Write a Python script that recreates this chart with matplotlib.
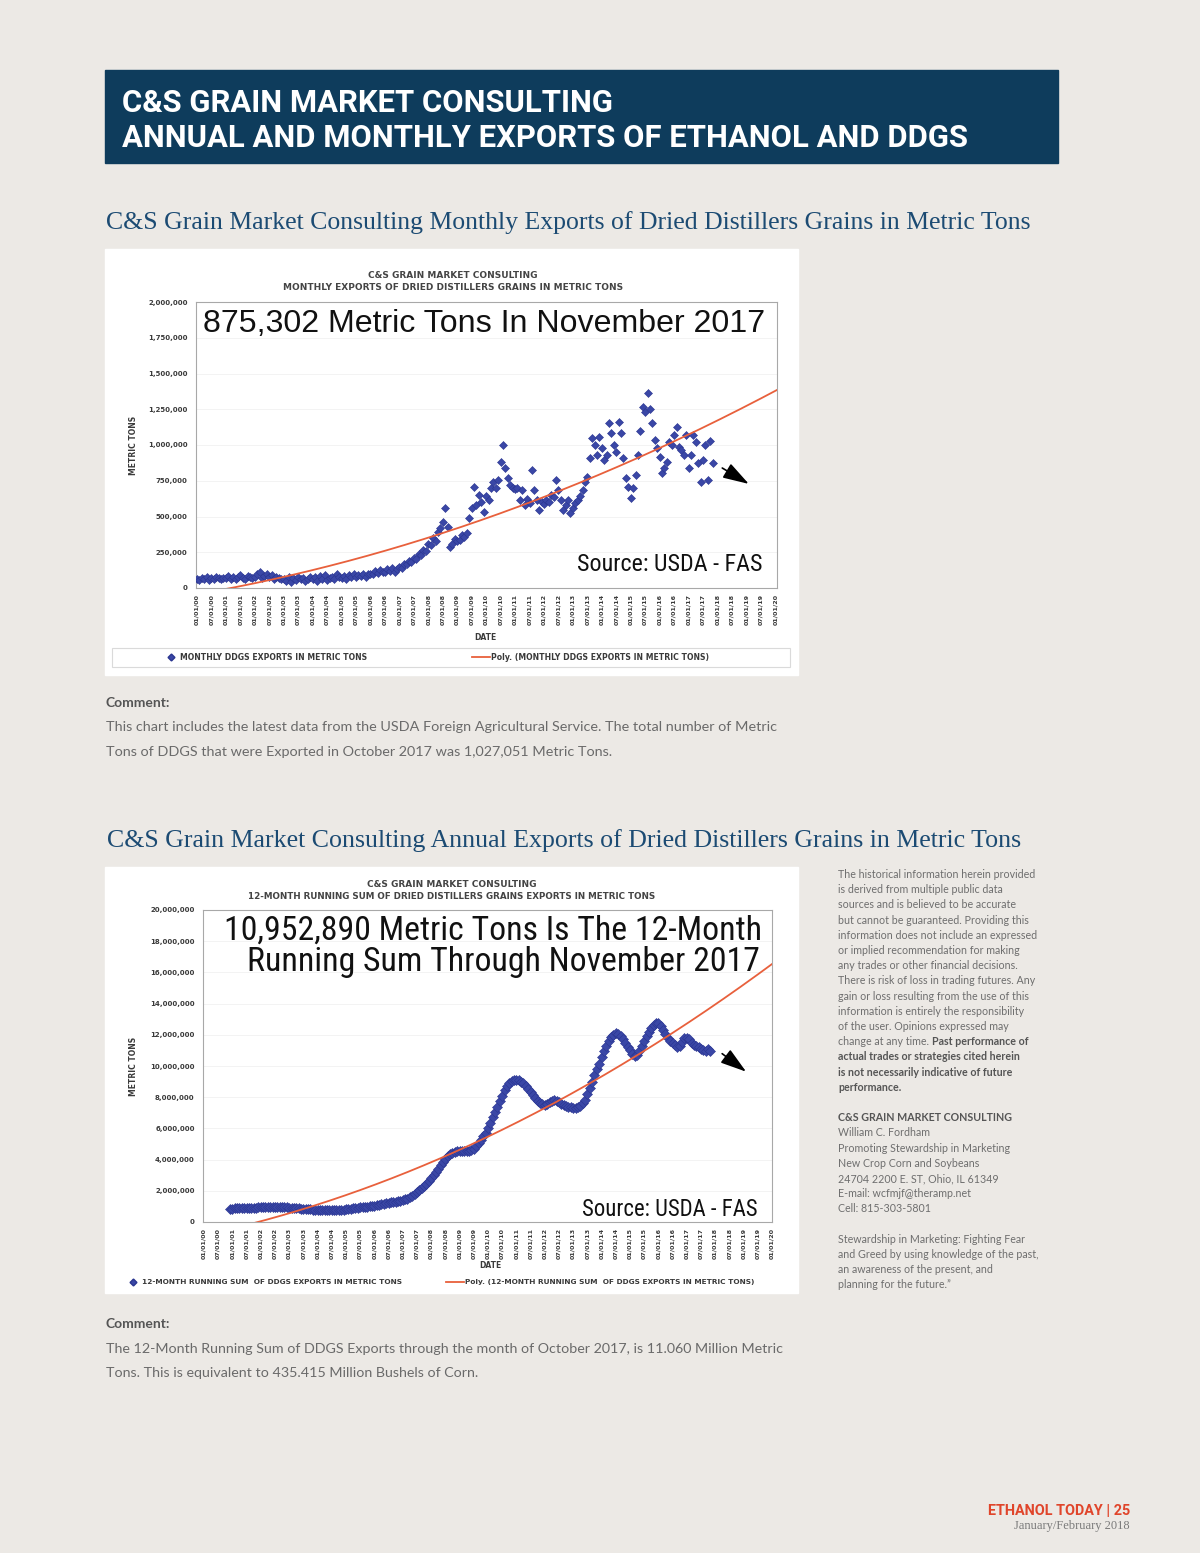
import matplotlib
matplotlib.use('Agg')
import matplotlib.pyplot as plt
import numpy as np
from matplotlib.patches import Rectangle
from matplotlib import font_manager
from matplotlib.font_manager import FontProperties

# ---------------- DATA ----------------
# Monthly DDGS exports (thousand metric tons), Jan 2000 .. Nov 2017
m2000 = [65, 55, 72, 60, 80, 58, 70, 62, 75, 68, 60, 72]
m2001 = [70, 85, 60, 75, 65, 80, 90, 70, 62, 85, 75, 68]
m2002 = [80, 95, 110, 70, 85, 100, 75, 90, 65, 80, 70, 60]
m2003 = [65, 50, 75, 45, 70, 55, 80, 60, 70, 50, 65, 75]
m2004 = [60, 75, 50, 85, 65, 90, 55, 70, 80, 60, 95, 75]
m2005 = [70, 85, 65, 90, 80, 95, 75, 90, 85, 100, 80, 95]
m2006 = [100, 95, 120, 105, 125, 115, 110, 130, 120, 140, 115, 135]
m2007 = [150, 140, 170, 165, 190, 180, 210, 200, 240, 230, 265, 260]
m2008 = [310, 300, 350, 330, 390, 420, 460, 560, 430, 290, 310, 340]
m2009 = [330, 336, 370, 360, 385, 490, 560, 707, 581, 651, 600, 532]
m2010 = [640, 616, 700, 742, 700, 756, 882, 1000, 839, 770, 721, 700]
m2011 = [690, 700, 616, 686, 581, 620, 595, 826, 686, 616, 546, 600]
m2012 = [590, 616, 600, 650, 637, 756, 686, 616, 546, 580, 616, 525]
m2013 = [560, 595, 616, 640, 686, 742, 776, 909, 1049, 1000, 930, 1056]
m2014 = [979, 895, 930, 1154, 1084, 1000, 951, 1161, 1084, 909, 770, 707]
m2015 = [630, 700, 790, 930, 1100, 1266, 1231, 1364, 1250, 1154, 1035, 979]
m2016 = [916, 804, 839, 882, 1021, 1000, 1070, 1126, 986, 965, 930, 1070]
m2017 = [839, 930, 1070, 1021, 874, 742, 895, 1000, 756, 1027.051, 875.302]

# 12-month running sum (million metric tons), Dec 2000 .. Nov 2017
r2000 = [0.85]
r2001 = [0.86, 0.87, 0.88, 0.88, 0.89, 0.90, 0.90, 0.91, 0.91, 0.92, 0.92, 0.93]
r2002 = [0.93, 0.94, 0.95, 0.95, 0.96, 0.96, 0.96, 0.95, 0.95, 0.94, 0.94, 0.93]
r2003 = [0.92, 0.91, 0.90, 0.89, 0.88, 0.86, 0.85, 0.84, 0.82, 0.81, 0.80, 0.79]
r2004 = [0.78, 0.77, 0.76, 0.75, 0.74, 0.74, 0.74, 0.75, 0.76, 0.77, 0.78, 0.80]
r2005 = [0.81, 0.83, 0.85, 0.87, 0.89, 0.91, 0.93, 0.95, 0.97, 0.99, 1.01, 1.03]
r2006 = [1.05, 1.08, 1.11, 1.14, 1.17, 1.20, 1.23, 1.26, 1.28, 1.31, 1.34, 1.37]
r2007 = [1.40, 1.45, 1.50, 1.58, 1.67, 1.78, 1.90, 2.02, 2.15, 2.30, 2.46, 2.62]
r2008 = [2.80, 3.00, 3.20, 3.42, 3.65, 3.85, 4.05, 4.22, 4.36, 4.45, 4.50, 4.52]
r2009 = [4.52, 4.52, 4.53, 4.55, 4.58, 4.63, 4.70, 4.85, 5.05, 5.28, 5.50, 5.72]
r2010 = [6.00, 6.35, 6.70, 7.05, 7.40, 7.75, 8.10, 8.45, 8.70, 8.90, 9.03, 9.10]
r2011 = [9.12, 9.08, 9.00, 8.88, 8.72, 8.55, 8.35, 8.15, 7.95, 7.78, 7.65, 7.55]
r2012 = [7.52, 7.58, 7.68, 7.78, 7.82, 7.78, 7.68, 7.58, 7.50, 7.45, 7.40, 7.36]
r2013 = [7.33, 7.32, 7.35, 7.45, 7.60, 7.85, 8.20, 8.60, 9.00, 9.40, 9.80, 10.15]
r2014 = [10.55, 10.95, 11.30, 11.60, 11.85, 12.00, 12.10, 12.08, 11.95, 11.75, 11.50, 11.25]
r2015 = [11.00, 10.80, 10.62, 10.70, 10.95, 11.30, 11.60, 11.90, 12.20, 12.45, 12.65, 12.78]
r2016 = [12.75, 12.55, 12.30, 12.05, 11.80, 11.62, 11.50, 11.35, 11.25, 11.30, 11.55, 11.80]
r2017 = [11.82, 11.70, 11.50, 11.35, 11.28, 11.20, 11.10, 11.00, 10.95, 11.06, 10.95289]

start_year = 2000
tick_step_months = 6
n_ticks = 41

monthly = np.array(m2000 + m2001 + m2002 + m2003 + m2004 + m2005 + m2006 + m2007 + m2008
                   + m2009 + m2010 + m2011 + m2012 + m2013 + m2014 + m2015 + m2016 + m2017) * 1000
running = np.array(r2000 + r2001 + r2002 + r2003 + r2004 + r2005 + r2006 + r2007 + r2008
                   + r2009 + r2010 + r2011 + r2012 + r2013 + r2014 + r2015 + r2016 + r2017) * 1e6
x_month = np.arange(len(monthly))
x_run = np.arange(len(monthly) - len(running), len(monthly))

tick_pos = np.arange(n_ticks) * tick_step_months
tick_labels = ["%02d/01/%02d" % (p % 12 + 1, (start_year + p // 12) % 100) for p in tick_pos]

# ---------------- FONTS ----------------
flist = font_manager.fontManager.ttflist
names = {f.name for f in flist}
SANS = 'Liberation Sans'
BODY = 'Lato' if 'Lato' in names else 'DejaVu Sans'
HEAD = 'Roboto' if 'Roboto' in names else 'DejaVu Sans'
SERIF = 'Liberation Serif'


def find_condensed():
    pref = ['Liberation Sans Narrow', 'Roboto Condensed', 'Open Sans Condensed', 'DejaVu Sans']
    cands = [f for f in flist
             if ('Narrow' in f.name or 'Condensed' in f.name
                 or str(f.stretch) in ('condensed', 'semi-condensed', 'extra-condensed'))
             and f.style == 'normal']
    for p in pref:
        for f in cands:
            if f.name == p and str(f.weight) in ('400', 'normal', 'regular', 'book'):
                return FontProperties(fname=f.fname)
    for f in cands:
        return FontProperties(fname=f.fname)
    return None


COND = find_condensed()

W, H = 1200, 1553
fig = plt.figure(figsize=(12, 15.53), dpi=100)
fig.patch.set_facecolor('#ECE9E5')
bg = fig.add_axes([0, 0, 1, 1])
bg.set_xlim(0, W)
bg.set_ylim(H, 0)
bg.axis('off')
bg.set_zorder(-5)
renderer = fig.canvas.get_renderer()


def px_axes(x0, y0, x1, y1):
    return fig.add_axes([x0 / W, 1 - y1 / H, (x1 - x0) / W, (y1 - y0) / H])


def T(x, y, s, **kw):
    kw.setdefault('va', 'baseline')
    return fig.text(x / W, 1 - y / H, s, **kw)


def fit(t, target):
    bb = t.get_window_extent(renderer=renderer)
    t.set_fontsize(t.get_fontsize() * target / bb.width)
    return t


BLUE = '#3A47A6'
RED = '#E8603C'
DARK = '#3A3A3A'
BODYC = '#6A6A6A'

# ---------------- HEADER ----------------
bg.add_patch(Rectangle((105, 70), 953, 93, color='#0E3C5C'))
h2 = T(122, 147, 'ANNUAL AND MONTHLY EXPORTS OF ETHANOL AND DDGS', color='white', fontsize=22,
       fontweight='bold', family=HEAD)
fit(h2, 843)
T(122, 112, 'C&S GRAIN MARKET CONSULTING', color='white', fontsize=h2.get_fontsize(),
  fontweight='bold', family=HEAD)

fit(T(106, 229, 'C&S Grain Market Consulting Monthly Exports of Dried Distillers Grains in Metric Tons',
      color='#1C4B73', fontsize=18, family=SERIF), 924)
fit(T(107, 847, 'C&S Grain Market Consulting Annual Exports of Dried Distillers Grains in Metric Tons',
      color='#1C4B73', fontsize=18, family=SERIF), 915)


def style_axes(ax, ymax, ystep, xright):
    ax.set_facecolor('white')
    ax.set_ylim(0, ymax)
    ax.set_xlim(-0.4, xright)
    yt = np.arange(0, ymax + 1, ystep)
    ax.set_yticks(yt)
    ax.set_yticklabels(['{:,}'.format(int(v)) for v in yt], fontsize=5, fontweight='bold', color=DARK)
    ax.set_xticks(tick_pos)
    ax.set_xticklabels(tick_labels, rotation=90, fontsize=4.6, fontweight='bold', color=DARK)
    ax.tick_params(length=0, pad=6)
    ax.tick_params(axis='x', pad=4)
    for s in ax.spines.values():
        s.set_color('#A8A8A8')
        s.set_linewidth(0.8)
    ax.yaxis.grid(True, color='#F1F1F1', lw=0.6)
    ax.set_axisbelow(True)


def legend_row(y, x_marker, text1, x_line, text2, fs):
    bg.plot([x_marker], [y], 'D', ms=3.5, color=BLUE, mec='#2A3590')
    T(x_marker + 9, y, text1, fontsize=fs, fontweight='bold', color=DARK, va='center')
    bg.plot([x_line, x_line + 18], [y, y], color=RED, lw=1.3)
    T(x_line + 19, y, text2, fontsize=fs, fontweight='bold', color=DARK, va='center')


def source_text(x, y, target):
    if COND is not None:
        fp = COND.copy()
        fp.set_size(20)
        t = T(x, y, 'Source: USDA - FAS', fontproperties=fp, color='#111')
    else:
        t = T(x, y, 'Source: USDA - FAS', fontsize=16, family=SANS, color='#111')
    fit(t, target)


# ---------------- CHART 1 ----------------
bg.add_patch(Rectangle((105, 249), 693, 426, color='white'))
T(453, 278, 'C&S GRAIN MARKET CONSULTING', ha='center', fontsize=6.5, fontweight='bold', color='#444')
T(453, 290, 'MONTHLY EXPORTS OF DRIED DISTILLERS GRAINS IN METRIC TONS', ha='center', fontsize=6.5,
  fontweight='bold', color='#444')
T(133, 445, 'METRIC TONS', rotation=90, ha='center', va='center', fontsize=5.5, fontweight='bold', color=DARK)

ax1 = px_axes(196, 302, 777, 588)
style_axes(ax1, 2000000, 250000, 240.7)
ax1.plot(x_month, monthly, 'D', ms=4.2, color=BLUE, mec='#2A3590', mew=0.4, zorder=3)
c1 = np.polyfit(x_month, monthly, 2)
xt1 = np.linspace(0, 240.7, 400)
ax1.plot(xt1, np.polyval(c1, xt1), color=RED, lw=1.3, zorder=4)
ax1.annotate('', xy=(x_month[-1] + 16, monthly[-1] * 0.82), xytext=(x_month[-1] + 3, monthly[-1] * 0.97),
             arrowprops=dict(arrowstyle='-|>,head_length=1.6,head_width=0.5', color='black', lw=1.2))

fit(T(203, 332, '875,302 Metric Tons In November 2017', fontsize=23, family=SANS, color='#111'), 562)
source_text(577, 571, 185)
T(485, 638, 'DATE', ha='center', va='center', fontsize=5.5, fontweight='bold', color=DARK)
bg.add_patch(Rectangle((112, 648), 678, 19, facecolor='white', edgecolor='#DADADA', lw=0.8))
legend_row(657, 171, 'MONTHLY DDGS EXPORTS IN METRIC TONS', 472,
           'Poly. (MONTHLY DDGS EXPORTS IN METRIC TONS)', 5.6)

T(106, 707, 'Comment:', fontsize=10, fontweight='bold', color='#555', family=BODY)
fit(T(106, 731, 'This chart includes the latest data from the USDA Foreign Agricultural Service. The total number of Metric',
      fontsize=10, color=BODYC, family=BODY), 668)
T(106, 756, 'Tons of DDGS that were Exported in October 2017 was 1,027,051 Metric Tons.',
  fontsize=plt.gcf().texts[-1].get_fontsize(), color=BODYC, family=BODY)

# ---------------- CHART 2 ----------------
bg.add_patch(Rectangle((105, 867), 693, 426, color='white'))
T(452, 887, 'C&S GRAIN MARKET CONSULTING', ha='center', fontsize=6.5, fontweight='bold', color='#444')
T(452, 899, '12-MONTH RUNNING SUM OF DRIED DISTILLERS GRAINS EXPORTS IN METRIC TONS', ha='center',
  fontsize=6.3, fontweight='bold', color='#444')
T(133, 1066, 'METRIC TONS', rotation=90, ha='center', va='center', fontsize=5.5, fontweight='bold', color=DARK)

ax2 = px_axes(203, 910, 772, 1222)
style_axes(ax2, 20000000, 2000000, 240.0)
ax2.plot(x_run, running, 'D', ms=5.2, color=BLUE, mec='#2A3590', mew=0.4, zorder=3)
c2 = np.polyfit(x_run, running, 2)
xt2 = np.linspace(0, 240.0, 400)
ax2.plot(xt2, np.polyval(c2, xt2), color=RED, lw=1.3, zorder=4)
ax2.annotate('', xy=(x_run[-1] + 16, running[-1] * 0.87), xytext=(x_run[-1] + 4, running[-1] * 0.995),
             arrowprops=dict(arrowstyle='-|>,head_length=1.6,head_width=0.5', color='black', lw=1.2))

if COND is not None:
    fp2 = COND.copy()
    fp2.set_size(24)
    b1 = T(762, 940, '10,952,890 Metric Tons Is The 12-Month', ha='right', fontproperties=fp2, color='#111')
    fit(b1, 538)
    fp3 = COND.copy()
    fp3.set_size(b1.get_fontsize())
    T(760, 971, 'Running Sum Through November 2017', ha='right', fontproperties=fp3, color='#111')
else:
    b1 = T(762, 940, '10,952,890 Metric Tons Is The 12-Month', ha='right', fontsize=21.5, family=SANS, color='#111')
    fit(b1, 538)
    T(760, 971, 'Running Sum Through November 2017', ha='right', fontsize=b1.get_fontsize(),
      family=SANS, color='#111')
source_text(582, 1216, 175)
T(490, 1266, 'DATE', ha='center', va='center', fontsize=5.5, fontweight='bold', color=DARK)
legend_row(1282, 133, '12-MONTH RUNNING SUM  OF DDGS EXPORTS IN METRIC TONS', 446,
           'Poly. (12-MONTH RUNNING SUM  OF DDGS EXPORTS IN METRIC TONS)', 5.3)

T(106, 1328, 'Comment:', fontsize=10, fontweight='bold', color='#555', family=BODY)
c2a = fit(T(106, 1353, 'The 12-Month Running Sum of DDGS Exports through the month of October 2017, is 11.060 Million Metric',
            fontsize=10, color=BODYC, family=BODY), 679)
T(106, 1377, 'Tons. This is equivalent to 435.415 Million Bushels of Corn.',
  fontsize=c2a.get_fontsize(), color=BODYC, family=BODY)

# ---------------- SIDEBAR ----------------
side = [
    ("The historical information herein provided", None),
    ("is derived from multiple public data", None),
    ("sources and is believed to be accurate", None),
    ("but cannot be guaranteed. Providing this", None),
    ("information does not include an expressed", None),
    ("or implied recommendation for making", None),
    ("any trades or other financial decisions.", None),
    ("There is risk of loss in trading futures. Any", None),
    ("gain or loss resulting from the use of this", None),
    ("information is entirely the responsibility", None),
    ("of the user. Opinions expressed may", None),
    ("change at any time. ", "Past performance of"),
    ("", "actual trades or strategies cited herein"),
    ("", "is not necessarily indicative of future"),
    ("", "performance."),
    ("", ""),
    ("", "C&S GRAIN MARKET CONSULTING"),
    ("William C. Fordham", None),
    ("Promoting Stewardship in Marketing", None),
    ("New Crop Corn and Soybeans", None),
    ("24704 2200 E. ST, Ohio, IL 61349", None),
    ("E-mail: wcfmjf@theramp.net", None),
    ("Cell: 815-303-5801", None),
    ("", None),
    ("Stewardship in Marketing: Fighting Fear", None),
    ("and Greed by using knowledge of the past,", None),
    ("an awareness of the present, and", None),
    ("planning for the future.\u201d", None),
]
y = 878
for normal, bold in side:
    xoff = 838
    if normal:
        t = T(838, y, normal, fontsize=7.7, color='#6E6E6E', family=BODY)
        if bold:
            bb = t.get_window_extent(renderer=renderer)
            xoff = bb.x1
    if bold:
        T(xoff, y, bold, fontsize=7.7, color='#555', family=BODY, fontweight='bold')
    y += 15.2

# ---------------- FOOTER ----------------
fit(T(1130, 1515, 'ETHANOL TODAY | 25', ha='right', fontsize=10.5, fontweight='bold', color='#E0452B',
      family=HEAD), 142)
T(1130, 1529, 'January/February 2018', ha='right', fontsize=9, color='#7A7A7A', family=SERIF)

fig.savefig('out.png', dpi=100, facecolor=fig.get_facecolor())
